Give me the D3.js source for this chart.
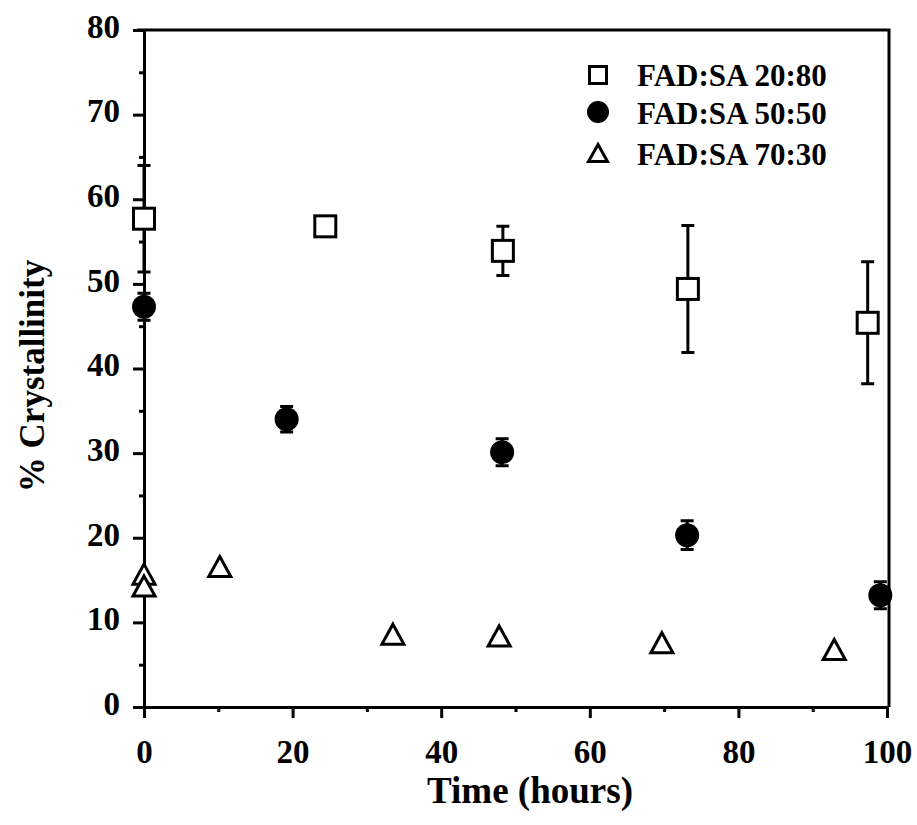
<!DOCTYPE html>
<html>
<head>
<meta charset="utf-8">
<script src="https://cdn.jsdelivr.net/npm/d3@7"></script>
<style>
  body { margin: 0; background: #fff; }
  svg text { font-family: "Liberation Serif", "Times New Roman", serif; font-weight: bold; fill: #000; }
</style>
</head>
<body>
<svg id="chart" width="917" height="825"></svg>
<script>
// data
const seriesNames = ["FAD:SA 20:80", "FAD:SA 50:50", "FAD:SA 70:30"];

const timeA = [0, 24.4, 48.3, 73.2, 97.4];
const crystA = [57.7, 56.8, 53.9, 49.4, 45.4];
const errA = [6.3, 0, 2.9, 7.5, 7.2];

const timeB = [0, 19.2, 48.2, 73.1, 99.1];
const crystB = [47.3, 34.0, 30.1, 20.3, 13.2];
const errB = [1.6, 1.5, 1.6, 1.7, 1.6];

const timeC = [0, 0, 10.2, 33.5, 47.8, 69.7, 92.9];
const crystC = [15.7, 14.3, 16.6, 8.6, 8.4, 7.6, 6.8];

const xMajor = [0, 20, 40, 60, 80, 100];
const xMinor = [10, 30, 50, 70, 90];
const yMajor = [0, 10, 20, 30, 40, 50, 60, 70, 80];
const yMinor = [5, 15, 25, 35, 45, 55, 65, 75];

const svg = d3.select("#chart");

const x = d3.scaleLinear().domain([0, 100]).range([144, 887]);
const y = d3.scaleLinear().domain([0, 80]).range([707, 30]);

// frame (top + right)
svg.append("path")
  .attr("d", `M${x(0) - 7},${y(80)}H${x(100) + 2}V${y(0)}`)
  .attr("fill", "none").attr("stroke", "#000").attr("stroke-width", 3);

// axes
function styleAxis(g) {
  g.selectAll("path.domain").attr("stroke-width", 3);
  g.selectAll(".tick line").attr("stroke-width", 3);
  g.selectAll(".tick text").attr("font-size", 33);
}

svg.append("g").attr("transform", `translate(0,${y(0)})`)
  .call(d3.axisBottom(x).tickValues(xMajor).tickSize(11).tickPadding(22).tickSizeOuter(0))
  .call(styleAxis);

svg.append("g").attr("transform", `translate(0,${y(0)})`)
  .call(d3.axisBottom(x).tickValues(xMinor).tickSize(5).tickFormat("").tickSizeOuter(0))
  .call(styleAxis);

const gy = svg.append("g").attr("transform", `translate(${x(0)},0)`)
  .call(d3.axisLeft(y).tickValues(yMajor).tickSize(11).tickPadding(13).tickSizeOuter(0))
  .call(styleAxis);
gy.selectAll(".tick text").attr("dy", "0.22em");

svg.append("g").attr("transform", `translate(${x(0)},0)`)
  .call(d3.axisLeft(y).tickValues(yMinor).tickSize(5).tickFormat("").tickSizeOuter(0))
  .call(styleAxis);

svg.selectAll("g text").attr("font-family", null);

// axis titles
svg.append("text")
  .attr("x", 530).attr("y", 803)
  .attr("text-anchor", "middle").attr("font-size", 37)
  .text("Time (hours)");

svg.append("text")
  .attr("transform", "translate(44,376) rotate(-90)")
  .attr("text-anchor", "middle").attr("font-size", 35)
  .text("% Crystallinity");

// error bars
function errorBars(times, vals, errs) {
  const cap = 6.5;
  const g = svg.append("g").attr("stroke", "#000").attr("stroke-width", 3).attr("fill", "none");
  times.forEach((t, i) => {
    if (!errs[i]) return;
    const cx = x(t), y1 = y(vals[i] + errs[i]), y2 = y(vals[i] - errs[i]);
    g.append("path")
      .attr("d", `M${cx},${y1}V${y2}M${cx - cap},${y1}H${cx + cap}M${cx - cap},${y2}H${cx + cap}`);
  });
}
errorBars(timeA, crystA, errA);
errorBars(timeB, crystB, errB);

// triangle path centred on its bounding box
function triPath(cx, cy, w, h) {
  return `M${cx},${cy - h / 2}L${cx + w / 2},${cy + h / 2}L${cx - w / 2},${cy + h / 2}Z`;
}

// squares
svg.append("g").selectAll("rect")
  .data(timeA)
  .join("rect")
  .attr("x", (d, i) => x(d) - 10.5)
  .attr("y", (d, i) => y(crystA[i]) - 10.5)
  .attr("width", 21).attr("height", 21)
  .attr("fill", "#fff").attr("stroke", "#000").attr("stroke-width", 3);

// circles
svg.append("g").selectAll("circle")
  .data(timeB)
  .join("circle")
  .attr("cx", d => x(d))
  .attr("cy", (d, i) => y(crystB[i]))
  .attr("r", 12)
  .attr("fill", "#000");

// triangles
svg.append("g").selectAll("path")
  .data(timeC)
  .join("path")
  .attr("d", (d, i) => triPath(x(d), y(crystC[i]), 22, 20))
  .attr("fill", "#fff").attr("stroke", "#000").attr("stroke-width", 3)
  .attr("stroke-linejoin", "miter");

// legend
const legend = svg.append("g");
const legY = [75, 112, 153];
legend.append("rect")
  .attr("x", 598 - 8.5).attr("y", legY[0] - 8.5)
  .attr("width", 17).attr("height", 17)
  .attr("fill", "#fff").attr("stroke", "#000").attr("stroke-width", 3);
legend.append("circle")
  .attr("cx", 598).attr("cy", legY[1]).attr("r", 11).attr("fill", "#000");
legend.append("path")
  .attr("d", triPath(598, legY[2], 19, 17))
  .attr("fill", "#fff").attr("stroke", "#000").attr("stroke-width", 3);

legend.selectAll("text")
  .data(seriesNames)
  .join("text")
  .attr("x", 637)
  .attr("y", (d, i) => [86, 124, 165][i])
  .attr("font-size", 31)
  .text(d => d);
</script>
</body>
</html>
